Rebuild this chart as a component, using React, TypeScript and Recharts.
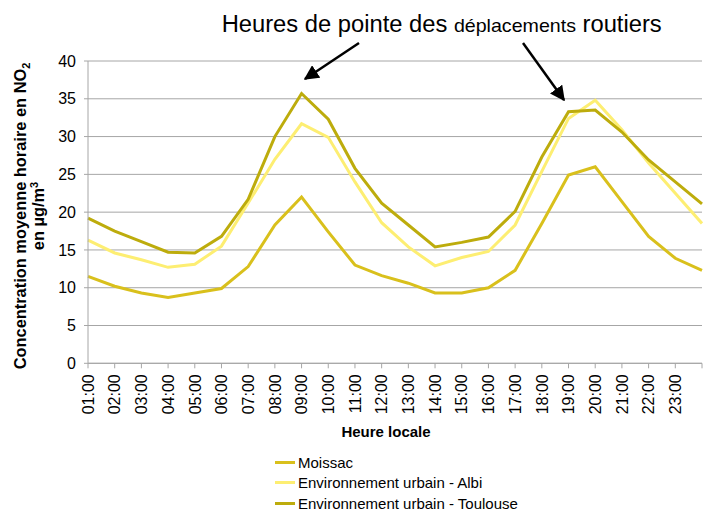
import { CartesianGrid, Legend, Line, LineChart, XAxis, YAxis } from 'recharts'

const hours = [
    '01:00', '02:00', '03:00', '04:00', '05:00', '06:00', '07:00', '08:00',
    '09:00', '10:00', '11:00', '12:00', '13:00', '14:00', '15:00', '16:00',
    '17:00', '18:00', '19:00', '20:00', '21:00', '22:00', '23:00', '00:00',
]

const moissac = [
    11.5, 10.2, 9.3, 8.7, 9.3, 9.9, 12.8, 18.3, 22.0, 17.4, 13.0, 11.6,
    10.6, 9.3, 9.3, 10.0, 12.3, 18.5, 24.9, 26.0, 21.4, 16.8, 13.9, 12.3,
]
const albi = [
    16.3, 14.6, 13.7, 12.7, 13.1, 15.5, 21.2, 27.0, 31.7, 29.9, 24.0, 18.6,
    15.4, 12.9, 14.0, 14.8, 18.3, 25.4, 32.4, 34.8, 30.9, 26.5, 22.5, 18.5,
]
const toulouse = [
    19.2, 17.5, 16.1, 14.7, 14.6, 16.8, 21.7, 30.0, 35.7, 32.3, 25.8, 21.2,
    18.3, 15.4, 16.0, 16.7, 20.1, 27.3, 33.3, 33.5, 30.6, 26.9, 24.0, 21.1,
]

const yTicks = [0, 5, 10, 15, 20, 25, 30, 35, 40]

const seriesNames = [
    'Moissac',
    'Environnement urbain - Albi',
    'Environnement urbain - Toulouse',
]
const seriesColors = ['#D9C01C', '#FDEE72', '#BDAC0C']

const data = hours.map((h, i) => ({
    hour: h,
    moissac: moissac[i],
    albi: albi[i],
    toulouse: toulouse[i],
}))

const FONT = '"Liberation Sans", Arial, sans-serif'
const GRID = '#A6A6A6'

const HourTick = (props: any) => {
    const { x, y, payload, index } = props
    // the last category sits on the clipped right edge, no label there
    if (index === hours.length - 1) return null
    return (
        <text
            x={x}
            y={y}
            transform={`rotate(-90 ${x} ${y})`}
            textAnchor="end"
            dy="0.36em"
            fontSize={16}
            fontFamily={FONT}
            fill="#000"
        >
            {payload.value}
        </text>
    )
}

const YTitle = () => (
    <g fontFamily={FONT} fontWeight="bold" fontSize={16.4} fill="#000">
        <text x={20} y={216} transform="rotate(-90 20 216)" textAnchor="middle" dy="0.35em">
            Concentration moyenne horaire en NO
            <tspan fontSize={11} dy={4}>2</tspan>
        </text>
        <text x={38} y={216} transform="rotate(-90 38 216)" textAnchor="middle" dy="0.35em">
            en µg/m
            <tspan fontSize={11} dy={-6}>3</tspan>
        </text>
    </g>
)

const XTitle = (props: any) => {
    const vb = props.viewBox || {}
    return (
        <text
            x={vb.x + vb.width / 2 - 9}
            y={437}
            textAnchor="middle"
            fontFamily={FONT}
            fontWeight="bold"
            fontSize={15}
            fill="#000"
        >
            Heure locale
        </text>
    )
}

const LegendList = (props: any) => {
    const items = [...(props.payload || [])].sort(
        (a: any, b: any) => seriesNames.indexOf(a.value) - seriesNames.indexOf(b.value)
    )
    return (
        <div style={{ height: 0, overflow: 'visible' }}>
            {items.map((entry: any) => (
                <div
                    key={entry.value}
                    style={{
                        display: 'flex',
                        alignItems: 'center',
                        height: 20.5,
                        fontFamily: FONT,
                        fontSize: 15,
                        color: '#000',
                        whiteSpace: 'nowrap',
                    }}
                >
                    <span
                        style={{
                            display: 'inline-block',
                            width: 20,
                            height: 3,
                            background: entry.color,
                            marginRight: 3,
                        }}
                    />
                    {entry.value}
                </div>
            ))}
        </div>
    )
}

const Annotations = () => (
    <svg
        width={703}
        height={514}
        style={{ position: 'absolute', left: 0, top: 0, pointerEvents: 'none' }}
    >
        <defs>
            <marker
                id="head"
                viewBox="0 0 10 10"
                refX="9"
                refY="5"
                markerWidth="6"
                markerHeight="6"
                orient="auto"
                markerUnits="strokeWidth"
            >
                <path d="M0,0 L10,5 L0,10 z" fill="#000" />
            </marker>
        </defs>
        <text
            x={441.7}
            y={31.7}
            textAnchor="middle"
            fontFamily={FONT}
            fontSize={23}
            fill="#000"
            textLength={440}
            lengthAdjust="spacingAndGlyphs"
        >
            Heures de pointe des <tspan fontSize={19}>déplacements</tspan> routiers
        </text>
        <line x1={359} y1={43} x2={305} y2={79} stroke="#000" strokeWidth={2.5} markerEnd="url(#head)" />
        <line x1={523} y1={43} x2={564} y2={100} stroke="#000" strokeWidth={2.5} markerEnd="url(#head)" />
    </svg>
)

export default function App() {
    return (
        <div
            style={{
                position: 'absolute',
                left: 0,
                top: 0,
                width: 703,
                height: 514,
                overflow: 'hidden',
                background: '#fff',
            }}
        >
            <LineChart
                width={720}
                height={514}
                data={data}
                margin={{ top: 61, right: 18, left: 0, bottom: 70.7 }}
            >
                <CartesianGrid vertical={false} stroke={GRID} />
                <XAxis
                    dataKey="hour"
                    interval={0}
                    height={80}
                    tick={<HourTick />}
                    tickSize={5}
                    tickMargin={6}
                    axisLine={{ stroke: GRID }}
                    tickLine={{ stroke: GRID }}
                    label={<XTitle />}
                />
                <YAxis
                    width={88}
                    domain={[0, 40]}
                    ticks={yTicks}
                    tickSize={4}
                    tickMargin={8}
                    axisLine={{ stroke: GRID }}
                    tickLine={{ stroke: GRID }}
                    tick={{ fontSize: 16, fontFamily: FONT, fill: '#000' }}
                    label={<YTitle />}
                />
                <Legend
                    content={<LegendList />}
                    wrapperStyle={{ left: 275, top: 452, bottom: 'auto', width: 320 }}
                />
                <Line
                    type="linear"
                    dataKey="moissac"
                    name={seriesNames[0]}
                    stroke={seriesColors[0]}
                    strokeWidth={3}
                    dot={false}
                    isAnimationActive={false}
                />
                <Line
                    type="linear"
                    dataKey="albi"
                    name={seriesNames[1]}
                    stroke={seriesColors[1]}
                    strokeWidth={3}
                    dot={false}
                    isAnimationActive={false}
                />
                <Line
                    type="linear"
                    dataKey="toulouse"
                    name={seriesNames[2]}
                    stroke={seriesColors[2]}
                    strokeWidth={3}
                    dot={false}
                    isAnimationActive={false}
                />
            </LineChart>
            <Annotations />
        </div>
    )
}
